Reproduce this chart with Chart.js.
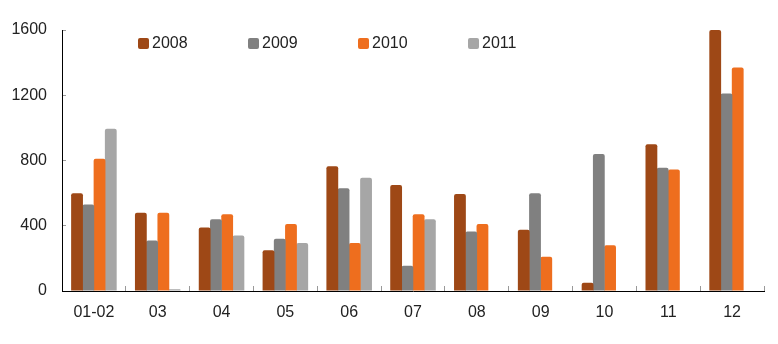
<!DOCTYPE html>
<html>
<head>
<meta charset="utf-8">
<script src="https://cdn.jsdelivr.net/npm/chart.js@4.4.1/dist/chart.umd.min.js"></script>
<style>
    html, body { margin: 0; padding: 0; background: #fff; }
    #wrap { position: relative; width: 778px; height: 344px; }
    #legend {
        position: absolute; left: 138px; top: 35px; height: 16px;
        display: flex; font: 16px "Liberation Sans", Arial, sans-serif; color: #222;
    }
    #legend .item { width: 110px; display: flex; align-items: center; line-height: 16px; }
    #legend .box { width: 11px; height: 11px; border-radius: 2px; margin-right: 3px; }
</style>
</head>
<body>
<div id="wrap">
    <canvas id="months-chart" width="778" height="344"></canvas>
    <div id="legend"></div>
</div>
<script>
// Monthly figures per year
const months = ['01-02', '03', '04', '05', '06', '07', '08', '09', '10', '11', '12'];
const years = ['2008', '2009', '2010', '2011'];
const values2008 = [600, 480, 390, 250, 765, 650, 595, 375, 50, 900, 1600];
const values2009 = [530, 310, 440, 320, 630, 155, 365, 600, 840, 755, 1210];
const values2010 = [810, 480, 470, 410, 295, 470, 410, 210, 280, 745, 1370];
const values2011 = [995, 10, 340, 295, 695, 440, null, null, null, null, null];
const yTicks = [0, 400, 800, 1200, 1600];

const colors = ['#9e4816', '#808080', '#ee6e1e', '#a6a6a6'];
const series = [values2008, values2009, values2010, values2011];

const datasets = years.map((year, i) => ({
    label: year,
    data: series[i],
    backgroundColor: colors[i],
    borderRadius: 2,
    borderSkipped: 'start',
    categoryPercentage: 0.705,
    barPercentage: 1.05
}));

const font = { family: '"Liberation Sans", Arial, sans-serif', size: 16 };

new Chart(document.getElementById('months-chart'), {
    type: 'bar',
    data: { labels: months, datasets: datasets },
    options: {
        responsive: false,
        animation: false,
        layout: { padding: { top: 30, right: 14, left: 0, bottom: 0 } },
        plugins: {
            legend: { display: false },
            tooltip: { enabled: false }
        },
        scales: {
            x: {
                afterFit: (scale) => { scale.height = 53; },
                border: { color: '#000', width: 1 },
                grid: { drawOnChartArea: false, tickLength: -5, color: '#999' },
                ticks: { color: '#222', font: font, padding: 17 }
            },
            y: {
                min: 0,
                max: 1600,
                afterFit: (scale) => { scale.width = 62; },
                afterBuildTicks: (scale) => { scale.ticks = yTicks.map(v => ({ value: v })); },
                border: { color: '#000', width: 1 },
                grid: { drawOnChartArea: false, tickLength: -4, color: '#999' },
                ticks: { color: '#222', font: font, padding: 19, callback: (v) => String(v) }
            }
        }
    }
});

// simple html legend
const legend = document.getElementById('legend');
years.forEach((year, i) => {
    const item = document.createElement('div');
    item.className = 'item';
    const box = document.createElement('span');
    box.className = 'box';
    box.style.background = colors[i];
    item.appendChild(box);
    item.appendChild(document.createTextNode(year));
    legend.appendChild(item);
});
</script>
</body>
</html>
